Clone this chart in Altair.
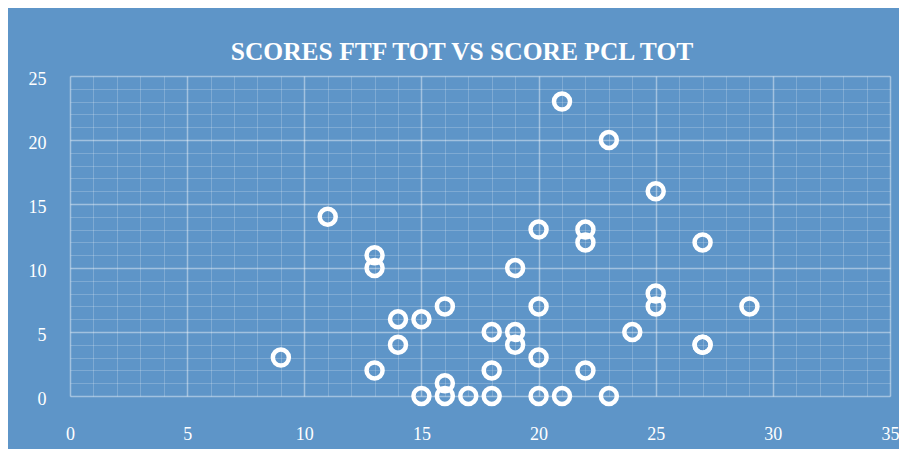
import altair as alt
import pandas as pd

# Data (SCORE PCL TOT on x, SCORES FTF TOT on y)
pcl = [9, 11, 13, 13, 13, 14, 14, 15, 15, 16, 16, 16, 17, 18, 18, 18, 19, 19, 19,
       20, 20, 20, 20, 21, 21, 22, 22, 22, 23, 23, 24, 25, 25, 25, 27, 27, 27, 29]
ftf = [3, 14, 11, 10, 2, 6, 4, 6, 0, 7, 1, 0, 0, 5, 2, 0, 10, 5, 4,
       13, 7, 3, 0, 23, 0, 13, 12, 2, 20, 0, 5, 16, 8, 7, 12, 4, 4, 7]

x_ticks = list(range(0, 36))
y_ticks = list(range(0, 26))

title_text = "SCORES FTF TOT VS SCORE PCL TOT"
bg = "#5E95C8"

df = pd.DataFrame({"pcl": pcl, "ftf": ftf})

grid_opacity = {"condition": {"test": "datum.value % 5 === 0", "value": 0.42}, "value": 0.2}
grid_width = {"condition": {"test": "datum.value % 5 === 0", "value": 1.5}, "value": 1}

common = dict(
    title=None,
    ticks=False,
    domain=False,
    labelFont="Liberation Serif",
    labelFontSize=18,
    labelColor="white",
    labelOverlap=False,
    labelFlush=False,
    labelExpr="datum.value % 5 === 0 ? datum.label : ''",
    gridColor="white",
    gridOpacity=grid_opacity,
    gridWidth=grid_width,
)

chart = (
    alt.Chart(df)
    .mark_point(shape="circle", filled=False, size=256, strokeWidth=4.5,
                color="white", opacity=1)
    .encode(
        x=alt.X("pcl:Q", scale=alt.Scale(domain=[0, 35], nice=False),
                axis=alt.Axis(values=x_ticks, labelPadding=29, **common)),
        y=alt.Y("ftf:Q", scale=alt.Scale(domain=[0, 25], nice=False),
                axis=alt.Axis(values=y_ticks, labelPadding=24, labelOffset=3, **common)),
    )
    .properties(
        width=820,
        height=320,
        background=bg,
        padding={"left": 62, "top": 68, "right": 9, "bottom": 53},
        autosize=alt.AutoSizeParams(type="none"),
        title=alt.TitleParams(
            title_text,
            font="Liberation Serif",
            fontSize=25.5,
            fontWeight="bold",
            color="white",
            anchor="middle",
            dx=-18,
            dy=32,
            offset=17,
            baseline="alphabetic",
        ),
    )
    .configure_view(stroke=None)
)

chart.save("out.html", embed_options={"renderer": "svg", "actions": False})
